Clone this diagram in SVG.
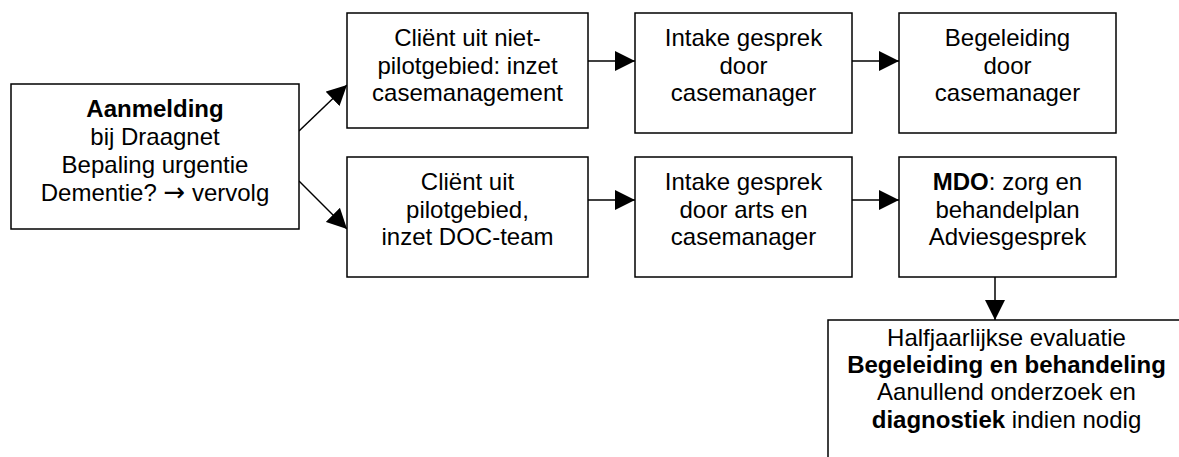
<svg xmlns="http://www.w3.org/2000/svg" width="1179" height="457" viewBox="0 0 1179 457">
  <style>
    .box { fill: #ffffff; stroke: #000000; stroke-width: 1.5; }
    .edge { fill: none; stroke: #000000; stroke-width: 1.5; marker-end: url(#arrow); }
    text { font-family: "Liberation Sans", Arial, sans-serif; font-size: 24px; fill: #000000; text-anchor: middle; }
    .b { font-weight: bold; }
    .sym { font-family: "DejaVu Sans", sans-serif; font-size: 26px; }
  </style>
  <defs>
    <marker id="arrow" markerUnits="userSpaceOnUse" markerWidth="20" markerHeight="20" viewBox="0 0 20 20" refX="20" refY="10" orient="auto">
      <path d="M0,0 L20,10 L0,20 Z" fill="#000000"/>
    </marker>
  </defs>

  <rect width="1179" height="457" fill="#ffffff"/>

  <!-- Connectors -->
  <g id="connectors">
    <line class="edge" x1="299" y1="131" x2="347" y2="85"/>
    <line class="edge" x1="299" y1="181" x2="347" y2="229"/>
    <line class="edge" x1="588" y1="61" x2="635" y2="61"/>
    <line class="edge" x1="852" y1="61" x2="899" y2="61"/>
    <line class="edge" x1="588" y1="200" x2="635" y2="200"/>
    <line class="edge" x1="852" y1="200" x2="899" y2="200"/>
    <line class="edge" x1="995" y1="272" x2="995" y2="320"/>
  </g>

  <!-- Intake / registration -->
  <g id="aanmelding">
    <rect class="box" x="11" y="84" width="288" height="145"/>
    <text x="155" y="117" class="b">Aanmelding</text>
    <text x="155" y="145">bij Draagnet</text>
    <text x="155" y="173">Bepaling urgentie</text>
    <text x="155" y="201">Dementie? <tspan class="sym">→</tspan> vervolg</text>
  </g>

  <g id="client-niet-pilot">
    <rect class="box" x="347" y="13" width="241" height="115"/>
    <text x="467.5" y="46">Cliënt uit niet-</text>
    <text x="467.5" y="74">pilotgebied: inzet</text>
    <text x="467.5" y="101">casemanagement</text>
  </g>

  <g id="client-pilot">
    <rect class="box" x="347" y="157" width="241" height="120"/>
    <text x="467.5" y="190">Cliënt uit</text>
    <text x="467.5" y="218">pilotgebied,</text>
    <text x="467.5" y="245">inzet DOC-team</text>
  </g>

  <g id="intake-cm">
    <rect class="box" x="635" y="13" width="217" height="120"/>
    <text x="743.5" y="46">Intake gesprek</text>
    <text x="743.5" y="74">door</text>
    <text x="743.5" y="101">casemanager</text>
  </g>

  <g id="intake-arts">
    <rect class="box" x="635" y="157" width="217" height="120"/>
    <text x="743.5" y="190">Intake gesprek</text>
    <text x="743.5" y="218">door arts en</text>
    <text x="743.5" y="245">casemanager</text>
  </g>

  <g id="begeleiding">
    <rect class="box" x="899" y="13" width="217" height="120"/>
    <text x="1007.5" y="46">Begeleiding</text>
    <text x="1007.5" y="74">door</text>
    <text x="1007.5" y="101">casemanager</text>
  </g>

  <g id="mdo">
    <rect class="box" x="899" y="157" width="217" height="120"/>
    <text x="1007.5" y="190"><tspan class="b">MDO</tspan>: zorg en</text>
    <text x="1007.5" y="218">behandelplan</text>
    <text x="1007.5" y="245">Adviesgesprek</text>
  </g>

  <g id="evaluatie">
    <rect class="box" x="828" y="320" width="380" height="160"/>
    <text x="1006.5" y="346">Halfjaarlijkse evaluatie</text>
    <text x="1006.5" y="373" class="b">Begeleiding en behandeling</text>
    <text x="1006.5" y="400">Aanullend onderzoek en</text>
    <text x="1006.5" y="428"><tspan class="b">diagnostiek</tspan> indien nodig</text>
  </g>
</svg>
